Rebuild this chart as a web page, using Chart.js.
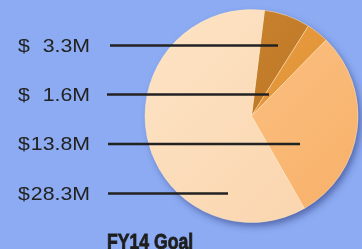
<!DOCTYPE html>
<html>
<head>
<meta charset="utf-8">
<script src="https://cdn.jsdelivr.net/npm/chart.js@4"></script>
<style>
  html, body { margin: 0; padding: 0; background: #8cabf2; }
  canvas { display: block; }
</style>
</head>
<body>
<canvas id="goal-pie" width="362" height="249"></canvas>
<script>
// Chart data
const categories = ['Slice A', 'Slice B', 'Slice C', 'Slice D'];
const amounts = [3.3, 1.6, 13.8, 28.3]; // $M
const labelTexts = ['3.3M', '1.6M', '13.8M', '28.3M'];
const chartTitle = 'FY14 Goal';

// Slice shading (top-left colour, bottom-right colour)
const sliceLight = ['#cf8a34', '#eaa24a', '#fdc68c', '#fde4c6'];
const sliceDark = ['#b36a1c', '#de8a2a', '#f7b068', '#fad3ab'];

// Label rows: y position, line start x, line end x
const labelRows = [
    { y: 45.5, x0: 110, x1: 278 },
    { y: 94.5, x0: 107, x1: 269 },
    { y: 144, x0: 108, x1: 300 },
    { y: 193.5, x0: 108, x1: 228 }
];

function sliceFill(context) {
    const chart = context.chart;
    const area = chart.chartArea;
    if (!area) return sliceLight[context.dataIndex];
    const g = chart.ctx.createLinearGradient(area.left, area.top, area.right, area.bottom);
    g.addColorStop(0, sliceLight[context.dataIndex]);
    g.addColorStop(1, sliceDark[context.dataIndex]);
    return g;
}

// Drop shadow under the pie
const pieShadow = {
    id: 'pieShadow',
    beforeDatasetsDraw(chart) {
        const arc = chart.getDatasetMeta(0).data[0];
        if (!arc) return;
        const ctx = chart.ctx;
        ctx.save();
        ctx.shadowColor = 'rgba(35, 45, 110, 0.55)';
        ctx.shadowBlur = 7;
        ctx.shadowOffsetX = 3;
        ctx.shadowOffsetY = 4;
        ctx.fillStyle = '#fbd6b0';
        ctx.beginPath();
        ctx.arc(arc.x, arc.y, arc.outerRadius - 0.5, 0, Math.PI * 2);
        ctx.fill();
        ctx.restore();
    }
};

// draw text squeezed/stretched horizontally
function drawScaled(ctx, text, x, y, sx, strokeW) {
    ctx.save();
    ctx.translate(x, y);
    ctx.scale(sx, 1);
    ctx.fillText(text, 0, 0);
    if (strokeW) {
        ctx.lineWidth = strokeW;
        ctx.strokeText(text, 0, 0);
    }
    ctx.restore();
}

// Value labels with leader lines, plus the caption
const sideLabels = {
    id: 'sideLabels',
    afterDraw(chart) {
        const ctx = chart.ctx;
        ctx.save();
        ctx.fillStyle = '#222';
        ctx.strokeStyle = '#222';
        ctx.lineWidth = 2.5;
        ctx.font = '19px "Liberation Sans", Arial, sans-serif';
        ctx.textBaseline = 'middle';
        labelRows.forEach((row, i) => {
            ctx.textAlign = 'left';
            drawScaled(ctx, '$', 18, row.y + 1, 1.12);
            ctx.textAlign = 'right';
            drawScaled(ctx, labelTexts[i], 90, row.y + 1, 1.12);
            ctx.beginPath();
            ctx.moveTo(row.x0, row.y);
            ctx.lineTo(row.x1, row.y);
            ctx.stroke();
        });
        ctx.textAlign = 'left';
        ctx.textBaseline = 'alphabetic';
        ctx.fillStyle = '#1e1e1e';
        ctx.strokeStyle = '#1e1e1e';
        ctx.font = 'bold 22px "Liberation Sans", Arial, sans-serif';
        drawScaled(ctx, chartTitle, 107, 249, 0.8, 0.8);
        ctx.restore();
    }
};

const goalChart = new Chart(document.getElementById('goal-pie').getContext('2d'), {
    type: 'pie',
    data: {
        labels: categories,
        datasets: [{
            data: amounts,
            backgroundColor: sliceFill,
            borderColor: 'rgba(255, 235, 205, 0.45)',
            borderWidth: 1
        }]
    },
    options: {
        responsive: false,
        animation: false,
        devicePixelRatio: 1,
        rotation: 7,
        layout: {
            padding: { left: 144, right: 3, top: 9, bottom: 26 }
        },
        plugins: {
            legend: { display: false },
            tooltip: { enabled: false },
            title: { display: false }
        }
    },
    plugins: [pieShadow, sideLabels]
});
</script>
</body>
</html>
